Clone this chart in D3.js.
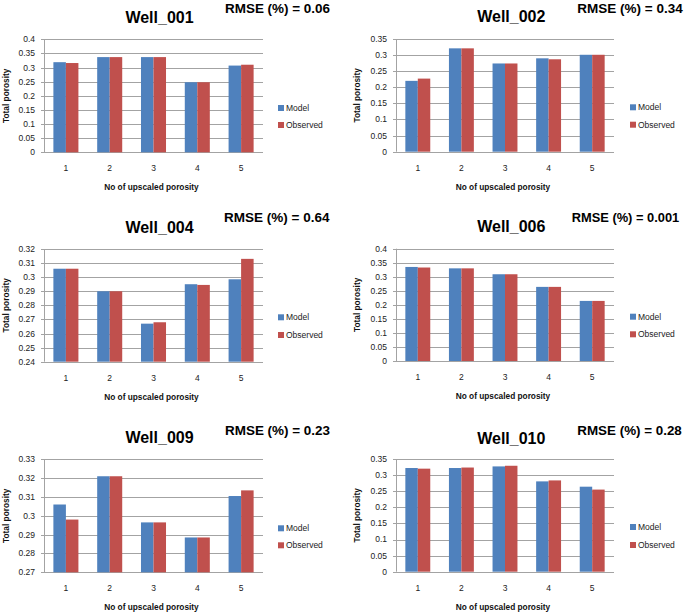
<!DOCTYPE html>
<html>
<head>
<meta charset="utf-8">
<script src="https://cdn.jsdelivr.net/npm/d3@7"></script>
<style>
  html, body { margin: 0; padding: 0; background: #fff; }
  svg { display: block; }
</style>
</head>
<body>
<svg id="chart" width="685" height="613"></svg>
<script>
// ---------------- DATA ----------------
const categories = ["1", "2", "3", "4", "5"];
const seriesNames = ["Model", "Observed"];
const wellNames = ["Well_001", "Well_002", "Well_004", "Well_006", "Well_009", "Well_010"];
const rmseLabels = ["RMSE (%) = 0.06", "RMSE (%) = 0.34", "RMSE (%) = 0.64",
                    "RMSE (%) = 0.001", "RMSE (%) = 0.23", "RMSE (%) = 0.28"];

const model001 = [0.319, 0.337, 0.337, 0.248, 0.307];
const observed001 = [0.316, 0.337, 0.337, 0.248, 0.310];
const model002 = [0.220, 0.321, 0.274, 0.290, 0.301];
const observed002 = [0.227, 0.321, 0.274, 0.287, 0.301];
const model004 = [0.306, 0.290, 0.267, 0.295, 0.2985];
const observed004 = [0.306, 0.290, 0.268, 0.2945, 0.313];
const model006 = [0.335, 0.330, 0.309, 0.264, 0.214];
const observed006 = [0.333, 0.330, 0.309, 0.264, 0.214];
const model009 = [0.306, 0.321, 0.2965, 0.2885, 0.3105];
const observed009 = [0.298, 0.321, 0.2965, 0.2885, 0.3135];
const model010 = [0.322, 0.322, 0.327, 0.2805, 0.264];
const observed010 = [0.320, 0.3235, 0.329, 0.2835, 0.255];

const ticks001 = [0, 0.05, 0.1, 0.15, 0.2, 0.25, 0.3, 0.35, 0.4];
const ticks002 = [0, 0.05, 0.1, 0.15, 0.2, 0.25, 0.3, 0.35];
const ticks004 = [0.24, 0.25, 0.26, 0.27, 0.28, 0.29, 0.3, 0.31, 0.32];
const ticks006 = [0, 0.05, 0.1, 0.15, 0.2, 0.25, 0.3, 0.35, 0.4];
const ticks009 = [0.27, 0.28, 0.29, 0.3, 0.31, 0.32, 0.33];
const ticks010 = [0, 0.05, 0.1, 0.15, 0.2, 0.25, 0.3, 0.35];

const xTitle = "No of upscaled  porosity";
const yTitle = "Total porosity";

// ---------------- LAYOUT ----------------
const colors = ["#4F81BD", "#C0504D"];
const cols = [
  { x0: 44, x1: 263, tickRight: 35, yTitleX: 6, titleX: 159.5, legX: 278 },
  { x0: 396, x1: 614, tickRight: 387, yTitleX: 357, titleX: 511.3, legX: 630 }
];
const panels = [
  { col: 0, top: 39.3, bottom: 152.3, titleY: 22.7, rmseX: 225, rmseY: 12.7, rmseW: 105, legY: [108, 125], model: model001, obs: observed001, ticks: ticks001 },
  { col: 1, top: 39, bottom: 151.7, titleY: 21.7, rmseX: 577.3, rmseY: 13.3, rmseW: 106, legY: [107.3, 124.7], model: model002, obs: observed002, ticks: ticks002 },
  { col: 0, top: 249, bottom: 361.7, titleY: 233.3, rmseX: 224, rmseY: 222.3, rmseW: 106, legY: [317.3, 335], model: model004, obs: observed004, ticks: ticks004 },
  { col: 1, top: 248.7, bottom: 361, titleY: 232.3, rmseX: 571.7, rmseY: 222.3, rmseW: 107.5, legY: [316.7, 334.3], model: model006, obs: observed006, ticks: ticks006 },
  { col: 0, top: 459.3, bottom: 572.3, titleY: 443.3, rmseX: 225, rmseY: 435, rmseW: 105, legY: [528.3, 545.3], model: model009, obs: observed009, ticks: ticks009 },
  { col: 1, top: 459, bottom: 571.7, titleY: 444, rmseX: 577.3, rmseY: 435, rmseW: 104.5, legY: [527, 545], model: model010, obs: observed010, ticks: ticks010 }
];

const svg = d3.select("#chart");
const font = "'Liberation Sans', Arial, sans-serif";
const gridColor = "#a3a3a3";

panels.forEach((p, i) => {
  const c = cols[p.col];
  const g = svg.append("g");
  const y = d3.scaleLinear()
    .domain([p.ticks[0], p.ticks[p.ticks.length - 1]])
    .range([p.bottom, p.top]);
  const x = d3.scaleBand().domain(categories).range([c.x0, c.x1])
    .paddingInner(1.5 / 3.5).paddingOuter(0.75 / 3.5);
  const xs = d3.scaleBand().domain(seriesNames).range([0, x.bandwidth()]);

  // gridlines
  g.append("g").selectAll("line").data(p.ticks).join("line")
    .attr("x1", c.x0 - 3).attr("x2", c.x1)
    .attr("y1", d => Math.round(y(d)) + 0.5).attr("y2", d => Math.round(y(d)) + 0.5)
    .attr("stroke", gridColor).attr("stroke-width", 1);
  // y axis line
  g.append("line")
    .attr("x1", c.x0 + 0.5).attr("x2", c.x0 + 0.5)
    .attr("y1", y.range()[1]).attr("y2", y.range()[0])
    .attr("stroke", gridColor);

  // y tick labels
  g.append("g").selectAll("text").data(p.ticks).join("text")
    .attr("x", c.tickRight).attr("y", d => y(d))
    .attr("dy", "0.35em").attr("text-anchor", "end")
    .attr("font-family", font).attr("font-size", 8.5).attr("fill", "#222")
    .text(d => String(d));

  // bars
  const rows = categories.map((cat, k) => ({ cat, vals: [p.model[k], p.obs[k]] }));
  const base = p.ticks[0];
  g.append("g").selectAll("g").data(rows).join("g")
    .attr("transform", d => `translate(${x(d.cat)},0)`)
    .selectAll("rect").data(d => d.vals.map((v, s) => ({ v, s })))
    .join("rect")
    .attr("x", d => xs(seriesNames[d.s]))
    .attr("width", xs.bandwidth())
    .attr("y", d => y(d.v))
    .attr("height", d => y(base) - y(d.v))
    .attr("fill", d => colors[d.s]);

  // x tick labels
  g.append("g").selectAll("text").data(categories).join("text")
    .attr("x", d => x(d) + x.bandwidth() / 2)
    .attr("y", p.bottom + 16).attr("dy", "0.35em")
    .attr("text-anchor", "middle")
    .attr("font-family", font).attr("font-size", 8.5).attr("fill", "#222")
    .text(d => d);

  // x title
  g.append("text")
    .attr("x", (c.x0 + c.x1) / 2 - 2).attr("y", p.bottom + 35).attr("dy", "0.35em")
    .attr("text-anchor", "middle")
    .attr("font-family", font).attr("font-size", 8.3).attr("font-weight", "bold").attr("fill", "#111")
    .text(xTitle);

  // y title
  g.append("text")
    .attr("transform", `translate(${c.yTitleX},${(p.top + p.bottom) / 2}) rotate(-90)`)
    .attr("dy", "0.35em").attr("text-anchor", "middle")
    .attr("font-family", font).attr("font-size", 8.3).attr("font-weight", "bold").attr("fill", "#111")
    .text(yTitle);

  // chart title
  g.append("text")
    .attr("x", c.titleX).attr("y", p.titleY)
    .attr("text-anchor", "middle")
    .attr("font-family", font).attr("font-size", 16).attr("font-weight", "bold").attr("fill", "#000")
    .text(wellNames[i]);

  // RMSE
  const rm = g.append("text")
    .attr("x", p.rmseX).attr("y", p.rmseY)
    .attr("font-family", font).attr("font-size", 13.5).attr("font-weight", "bold").attr("fill", "#000")
    .text(rmseLabels[i]);
  if (rm.node().getComputedTextLength() > p.rmseW) {
    rm.attr("textLength", p.rmseW).attr("lengthAdjust", "spacingAndGlyphs");
  }

  // legend
  const leg = g.append("g").selectAll("g").data(seriesNames).join("g")
    .attr("transform", (d, s) => `translate(${c.legX},${p.legY[s]})`);
  leg.append("rect").attr("x", 0).attr("y", -3).attr("width", 6).attr("height", 6)
    .attr("fill", (d, s) => colors[s]);
  leg.append("text").attr("x", 8).attr("y", 0).attr("dy", "0.35em")
    .attr("font-family", font).attr("font-size", 8.5).attr("fill", "#222")
    .text(d => d);
});
</script>
</body>
</html>
